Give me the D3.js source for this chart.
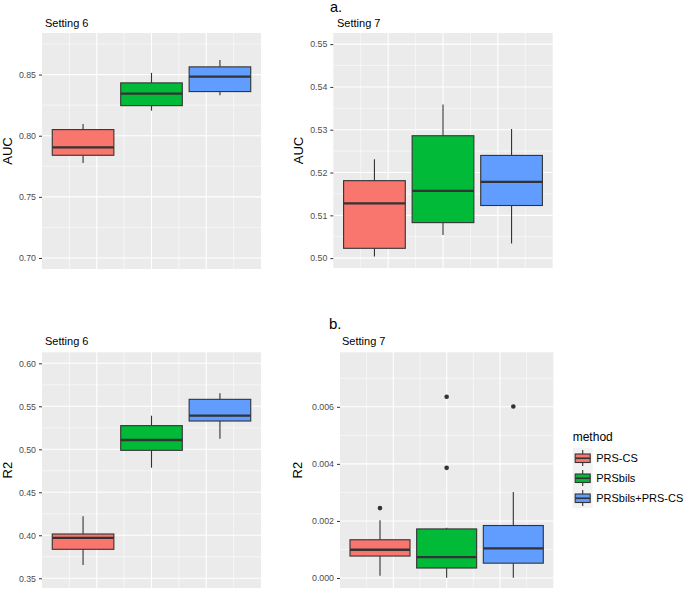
<!DOCTYPE html>
<html><head><meta charset="utf-8">
<script src="https://cdn.jsdelivr.net/npm/d3@7"></script>
<style>body{margin:0;background:#fff} svg{display:block;font-family:"Liberation Sans",Arial,sans-serif}</style>
</head><body><svg id="c" width="685" height="590"></svg>
<script>
const methods = ["PRS-CS", "PRSbils", "PRSbils+PRS-CS"];
const colors = ["#F8766D", "#00BA38", "#619CFF"];
// each row: [lower whisker, Q1, median, Q3, upper whisker]
const auc6 = [[0.7776, 0.784, 0.7904, 0.805, 0.8096], [0.8205, 0.8246, 0.8344, 0.8432, 0.8514], [0.833, 0.8361, 0.8484, 0.8563, 0.862]];
const auc7 = [[0.5004, 0.5023, 0.5128, 0.5181, 0.5231], [0.5054, 0.5083, 0.5157, 0.5286, 0.5359], [0.5034, 0.5123, 0.5178, 0.524, 0.5302]];
const r2s6 = [[0.3655, 0.3837, 0.3969, 0.4015, 0.4221], [0.4786, 0.4988, 0.5108, 0.5275, 0.5391], [0.5123, 0.5329, 0.5391, 0.5581, 0.5651]];
const r2s7 = [[0.00008, 0.00077, 0.00099, 0.00134, 0.00202], [0.00001, 0.00035, 0.00073, 0.00172, 0.00176], [0.00001, 0.00052, 0.00104, 0.00184, 0.00301]];
const r2s7Outliers = [[0.00245], [0.00635, 0.00386], [0.00601]];
const auc6Ticks = [0.70, 0.75, 0.80, 0.85];
const auc7Ticks = [0.50, 0.51, 0.52, 0.53, 0.54, 0.55];
const r2s6Ticks = [0.35, 0.40, 0.45, 0.50, 0.55, 0.60];
const r2s7Ticks = [0.000, 0.002, 0.004, 0.006];

const panels = [
  {x0: 42, x1: 261, y0: 33, y1: 269, dom: [0.691, 0.884], ticks: auc6Ticks, fmt: ".2f", stats: auc6, out: null, title: "Setting 6", tx: 45, ty: 27, ylab: "AUC", lx: 12},
  {x0: 333.3, x1: 552.7, y0: 33, y1: 268, dom: [0.4977, 0.5526], ticks: auc7Ticks, fmt: ".2f", stats: auc7, out: null, title: "Setting 7", tx: 337, ty: 27, ylab: "AUC", lx: 303},
  {x0: 42, x1: 261, y0: 352.3, y1: 588, dom: [0.3387, 0.6128], ticks: r2s6Ticks, fmt: ".2f", stats: r2s6, out: null, title: "Setting 6", tx: 45, ty: 345, ylab: "R2", lx: 12},
  {x0: 340, x1: 553.3, y0: 352.3, y1: 588, dom: [-0.00035, 0.00791], ticks: r2s7Ticks, fmt: ".3f", stats: r2s7, out: r2s7Outliers, title: "Setting 7", tx: 342, ty: 345, ylab: "R2", lx: 302}
];

const svg = d3.select("#c");
const line = "#333333";

panels.forEach(p => {
  const g = svg.append("g");
  const y = d3.scaleLinear().domain(p.dom).range([p.y1, p.y0]);
  const xg = d3.scaleLinear().domain([0, 8]).range([p.x0, p.x1]);
  const xb = d3.scaleBand().domain(methods).range([p.x0, p.x1]).paddingInner(0.1).paddingOuter(0.15);
  g.append("rect").attr("x", p.x0).attr("y", p.y0).attr("width", p.x1 - p.x0).attr("height", p.y1 - p.y0).attr("fill", "#EBEBEB");
  const step = p.ticks[1] - p.ticks[0];
  const minor = [];
  for (let i = -1; i < p.ticks.length; i++) {
    const v = p.ticks[0] + (i + 0.5) * step;
    if (v > p.dom[0] && v < p.dom[1]) minor.push(v);
  }
  g.selectAll(".hmin").data(minor).join("line").attr("x1", p.x0).attr("x2", p.x1)
    .attr("y1", d => y(d)).attr("y2", d => y(d)).attr("stroke", "#fff").attr("stroke-width", 0.55);
  g.selectAll(".vmin").data([1, 3, 5, 7]).join("line").attr("y1", p.y0).attr("y2", p.y1)
    .attr("x1", d => xg(d)).attr("x2", d => xg(d)).attr("stroke", "#fff").attr("stroke-width", 0.55);
  g.selectAll(".hmaj").data(p.ticks).join("line").attr("x1", p.x0).attr("x2", p.x1)
    .attr("y1", d => y(d)).attr("y2", d => y(d)).attr("stroke", "#fff").attr("stroke-width", 1.1);
  g.selectAll(".vmaj").data([2, 4, 6]).join("line").attr("y1", p.y0).attr("y2", p.y1)
    .attr("x1", d => xg(d)).attr("x2", d => xg(d)).attr("stroke", "#fff").attr("stroke-width", 1.1);

  // axis
  const ax = g.append("g").attr("transform", `translate(${p.x0},0)`)
    .call(d3.axisLeft(y).tickValues(p.ticks).tickFormat(d3.format(p.fmt)).tickSize(3).tickPadding(3));
  ax.select(".domain").remove();
  ax.selectAll(".tick line").attr("stroke", line).attr("stroke-width", 1);
  ax.selectAll(".tick text").attr("fill", "#4D4D4D").style("font-size", "8.8px").style("font-family", '"Liberation Sans",Arial,sans-serif');

  // boxes
  p.stats.forEach((s, i) => {
    const m = methods[i];
    const cx = xb(m) + xb.bandwidth() / 2;
    const bg = g.append("g");
    bg.append("line").attr("x1", cx).attr("x2", cx).attr("y1", y(s[0])).attr("y2", y(s[1])).attr("stroke", line).attr("stroke-width", 1.1);
    bg.append("line").attr("x1", cx).attr("x2", cx).attr("y1", y(s[3])).attr("y2", y(s[4])).attr("stroke", line).attr("stroke-width", 1.1);
    bg.append("rect").attr("x", xb(m)).attr("width", xb.bandwidth()).attr("y", y(s[3])).attr("height", y(s[1]) - y(s[3]))
      .attr("fill", colors[i]).attr("stroke", line).attr("stroke-width", 1.1);
    bg.append("line").attr("x1", xb(m)).attr("x2", xb(m) + xb.bandwidth()).attr("y1", y(s[2])).attr("y2", y(s[2])).attr("stroke", line).attr("stroke-width", 2.3);
    if (p.out) {
      bg.selectAll("circle").data(p.out[i]).join("circle").attr("cx", cx).attr("cy", d => y(d)).attr("r", 2.3).attr("fill", line);
    }
  });

  svg.append("text").attr("x", p.tx).attr("y", p.ty).text(p.title).style("font-size", "11px").attr("fill", "#000");
  svg.append("text").attr("transform", `translate(${p.lx},${(p.y0 + p.y1) / 2}) rotate(-90)`).attr("text-anchor", "middle")
    .text(p.ylab).style("font-size", "13px").attr("fill", "#000");
});

svg.append("text").attr("x", 330).attr("y", 11.5).text("a.").style("font-size", "14.5px");
svg.append("text").attr("x", 329).attr("y", 329).text("b.").style("font-size", "15px");

// legend
const lg = svg.append("g").attr("transform", "translate(572.7,448)");
lg.append("text").attr("x", 0).attr("y", -7).text("method").style("font-size", "12px");
methods.forEach((m, i) => {
  const k = lg.append("g").attr("transform", `translate(0,${i * 20})`);
  k.append("rect").attr("width", 20).attr("height", 20).attr("fill", "#F2F2F2");
  k.append("line").attr("x1", 10).attr("x2", 10).attr("y1", 2).attr("y2", 18).attr("stroke", line).attr("stroke-width", 1.1);
  k.append("rect").attr("x", 2.5).attr("y", 6).attr("width", 15).attr("height", 8.5).attr("fill", colors[i]).attr("stroke", line).attr("stroke-width", 1.1);
  k.append("line").attr("x1", 2.5).attr("x2", 17.5).attr("y1", 10.25).attr("y2", 10.25).attr("stroke", line).attr("stroke-width", 1.6);
  k.append("text").attr("x", 23.5).attr("y", 14).text(m).style("font-size", "11px");
});
</script></body></html>
